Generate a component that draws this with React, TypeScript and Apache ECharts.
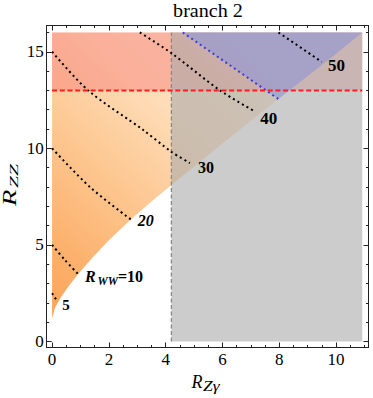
import React, { useEffect, useRef } from 'react';
import * as echarts from 'echarts';

// ---- axis ticks ----
const xMajorTicks = [0, 2, 4, 6, 8, 10];
const xMinorTicks = [0.5, 1, 1.5, 2.5, 3, 3.5, 4.5, 5, 5.5, 6.5, 7, 7.5, 8.5, 9, 9.5, 10.5, 11];
const yMajorTicks = [0, 5, 10, 15];
const yMinorTicks = [1, 2, 3, 4, 6, 7, 8, 9, 11, 12, 13, 14, 16];

// ---- allowed-region lower boundary (R_Zgamma, R_ZZ) ----
const boundaryX = [0, 0.1, 0.3, 0.6, 0.92, 1.4, 2.0, 2.77, 3.5, 4.2, 5, 6, 7, 8, 9, 10, 10.92];
const boundaryY = [1.2, 1.75, 2.27, 2.9, 3.49, 4.31, 5.24, 6.32, 7.25, 8.1, 9.06, 10.25, 11.43, 12.6, 13.75, 14.9, 16.0];

// ---- limits ----
const grayLimitX = 4.2;   // R_Zgamma exclusion
const redLimitY = 13;     // R_ZZ limit
const plotTopY = 16;
const blueLimit = [[4.6, 16], [7.97, 12.55]];

// ---- R_WW contours ----
const contour5 = [[0, 2.5], [0.19, 2.06]];
const contour10 = [[0, 5.0], [0.45, 4.22], [0.92, 3.49]];
const contour20 = [[0, 10], [1.33, 8.0], [2.77, 6.32]];
const contour30 = [[0, 15], [1.27, 13.0], [3.21, 10.95], [4.2, 9.82], [4.85, 9.24]];
const contour40 = [[3.09, 16], [4.21, 14.92], [5.91, 13.0], [7.15, 11.9]];
const contour50 = [[7.97, 16], [9.49, 14.48]];

// ---- contour label anchors ----
const contourLabels = [
  { x: 0.49, y: 1.89, text: '5', italic: false, size: 15 },
  { x: 3.3, y: 6.29, text: '20', italic: true, size: 16 },
  { x: 5.42, y: 9.03, text: '30', italic: false, size: 16 },
  { x: 7.63, y: 11.55, text: '40', italic: false, size: 17 },
  { x: 10.01, y: 14.27, text: '50', italic: false, size: 17 },
];
const rwwLabel = { x: 1.155, y: 3.39 };

const SERIF = '"Liberation Serif", "Times New Roman", serif';

export default function App() {
  const ref = useRef<HTMLDivElement>(null);
  useEffect(() => {
    if (!ref.current) return;
    const chart = echarts.init(ref.current, null, { renderer: 'svg' });

    const boundary = boundaryX.map((x, i) => [x, boundaryY[i]]);
    const xEnd = boundaryX[boundaryX.length - 1];
    const blueEnd = blueLimit[blueLimit.length - 1];

    const orangeFill = new echarts.graphic.LinearGradient(0, 1, 1, 0, [
      { offset: 0, color: '#fca358' },
      { offset: 0.13, color: '#fcb06b' },
      { offset: 0.37, color: '#fdca96' },
      { offset: 0.55, color: '#fedcb7' },
      { offset: 1, color: '#fff0e0' },
    ]);

    const regions = [
      { pts: [...boundary, [0, plotTopY]], fill: orangeFill },
      { pts: [[0, redLimitY], [xEnd, redLimitY], [xEnd, plotTopY], [0, plotTopY]], fill: 'rgba(245,110,110,0.4)' },
      { pts: [[grayLimitX, 0], [xEnd, 0], [xEnd, plotTopY], [grayLimitX, plotTopY]], fill: 'rgba(170,170,170,0.6)' },
      { pts: [...blueLimit, ...boundary.filter((p) => p[0] > blueEnd[0])], fill: 'rgba(138,150,222,0.56)' },
    ];

    const X_MIN = -0.19, X_MAX = 11.14, Y_MIN = -0.31, Y_MAX = 16.36;
    const frame = '#222';

    const mkX = (position: string, ticks: number[], len: number, line: boolean, label: boolean) => ({
      type: 'value', position, min: X_MIN, max: X_MAX,
      axisLine: { show: line, onZero: false, lineStyle: { color: frame, width: 1 } },
      axisTick: { show: true, inside: true, length: len, customValues: ticks, lineStyle: { color: frame, width: 1 } },
      axisLabel: { show: label, customValues: ticks, margin: 3.5, fontSize: 17, fontFamily: SERIF, color: '#000' },
      splitLine: { show: false },
    });
    const mkY = (position: string, ticks: number[], len: number, line: boolean, label: boolean) => ({
      type: 'value', position, min: Y_MIN, max: Y_MAX,
      axisLine: { show: line, onZero: false, lineStyle: { color: frame, width: 1 } },
      axisTick: { show: true, inside: true, length: len, customValues: ticks, lineStyle: { color: frame, width: 1 } },
      axisLabel: { show: label, customValues: ticks, margin: 3, fontSize: 17, fontFamily: SERIF, color: '#000' },
      splitLine: { show: false },
    });

    const dotted = (data: number[][], color: string, smooth: number) => ({
      type: 'line', data, symbol: 'none', showSymbol: false, silent: true, smooth,
      lineStyle: { color, width: 2, type: [2, 3.2], cap: 'butt' },
      xAxisIndex: 0, yAxisIndex: 0, z: 5,
    });

    const option: any = {
      animation: false,
      grid: { left: 46.7, right: 4.5, top: 25.5, bottom: 50.5, containLabel: false },
      xAxis: [
        mkX('bottom', xMajorTicks, 5, true, true),
        mkX('bottom', xMinorTicks, 2.5, false, false),
        mkX('top', xMajorTicks, 5, true, false),
        mkX('top', xMinorTicks, 2.5, false, false),
      ],
      yAxis: [
        mkY('left', yMajorTicks, 5, true, true),
        mkY('left', yMinorTicks, 2.5, false, false),
        mkY('right', yMajorTicks, 5, true, false),
        mkY('right', yMinorTicks, 2.5, false, false),
      ],
      series: [
        {
          type: 'custom', silent: true, xAxisIndex: 0, yAxisIndex: 0, z: 1,
          data: regions.map(() => [0, 0]),
          renderItem: (params: any, api: any) => {
            const r = regions[params.dataIndex];
            return {
              type: 'polygon',
              shape: { points: r.pts.map((p) => api.coord(p)) },
              style: { fill: r.fill },
            };
          },
        },
        {
          type: 'line', data: [[grayLimitX, 0], [grayLimitX, plotTopY]], symbol: 'none', silent: true,
          lineStyle: { color: '#8a8a8a', width: 1.3, type: [4, 2.5] }, z: 4,
        },
        {
          type: 'line', data: [[0, redLimitY], [xEnd, redLimitY]], symbol: 'none', silent: true,
          lineStyle: { color: '#ff1c1c', width: 2, type: [5, 2.7] }, z: 6,
        },
        dotted(contour5, '#000', 0),
        dotted(contour10, '#000', 0.3),
        dotted(contour20, '#000', 0.3),
        dotted(contour30, '#000', 0.3),
        dotted(contour40, '#000', 0.3),
        dotted(contour50, '#000', 0),
        dotted(blueLimit, '#3b3be0', 0),
        {
          type: 'custom', silent: true, xAxisIndex: 0, yAxisIndex: 0, z: 8,
          data: contourLabels.map((l) => [l.x, l.y]),
          renderItem: (params: any, api: any) => {
            const l = contourLabels[params.dataIndex];
            const [px, py] = api.coord([l.x, l.y]);
            return {
              type: 'text', x: px, y: py,
              style: {
                text: l.text, fill: '#000', fontSize: l.size, fontWeight: 'bold',
                fontStyle: l.italic ? 'italic' : 'normal', fontFamily: SERIF,
                align: 'center', verticalAlign: 'middle',
              },
            };
          },
        },
        {
          type: 'custom', silent: true, xAxisIndex: 0, yAxisIndex: 0, z: 8,
          data: [[rwwLabel.x, rwwLabel.y]],
          renderItem: (params: any, api: any) => {
            const [px, py] = api.coord([rwwLabel.x, rwwLabel.y]);
            const base = { fill: '#000', fontWeight: 'bold', fontFamily: SERIF, align: 'left', verticalAlign: 'middle' };
            return {
              type: 'group', x: px, y: py,
              children: [
                { type: 'text', x: 0, y: 0, style: { ...base, text: 'R', fontSize: 16, fontStyle: 'italic' } },
                { type: 'text', x: 12.5, y: 4.5, style: { ...base, text: 'WW', fontSize: 11.5, fontStyle: 'italic' } },
                { type: 'text', x: 33, y: 0, style: { ...base, text: '=10', fontSize: 16 } },
              ],
            };
          },
        },
      ],
      graphic: [
        {
          type: 'text', x: 208, y: 10.5, scaleX: 1.06,
          style: { text: 'branch 2', fill: '#000', fontSize: 19, fontFamily: SERIF, align: 'center', verticalAlign: 'middle' },
        },
        {
          type: 'group', x: 16, y: 183, rotation: Math.PI / 2,
          children: [
            { type: 'text', x: -23, y: -6.5, scaleX: 1.4, style: { text: 'R', fill: '#000', fontSize: 19, fontStyle: 'italic', fontFamily: SERIF, align: 'left', verticalAlign: 'middle' } },
            { type: 'text', x: -5, y: -2.3, scaleX: 1.6, style: { text: 'ZZ', fill: '#000', fontSize: 13.5, fontStyle: 'italic', fontFamily: SERIF, align: 'left', verticalAlign: 'middle' } },
          ],
        },
        { type: 'text', x: 191.5, y: 381.8, style: { text: 'R', fill: '#000', fontSize: 18, fontStyle: 'italic', fontFamily: SERIF, align: 'left', verticalAlign: 'middle' } },
        { type: 'text', x: 203, y: 386.3, scaleX: 1.2, style: { text: 'Zγ', fill: '#000', fontSize: 14.5, fontStyle: 'italic', fontFamily: SERIF, align: 'left', verticalAlign: 'middle' } },
      ],
    };

    chart.setOption(option);
    return () => chart.dispose();
  }, []);

  return (
    <div
      ref={ref}
      style={{ position: 'fixed', left: 0, top: 0, width: 373, height: 398, background: '#fff' }}
    />
  );
}
